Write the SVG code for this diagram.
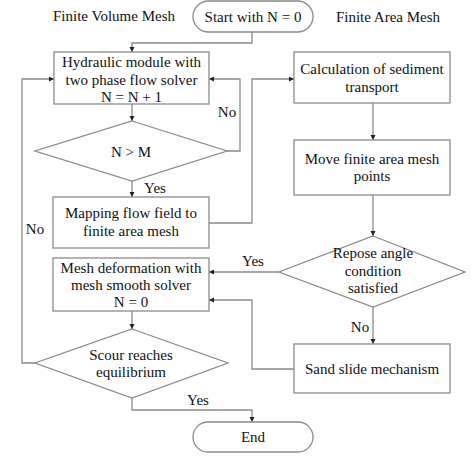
<svg xmlns="http://www.w3.org/2000/svg" width="474" height="464" viewBox="0 0 474 464">
<defs>
<marker id="ah" markerWidth="6" markerHeight="6" refX="5" refY="3" orient="auto" markerUnits="userSpaceOnUse">
<path d="M0,0.5 L5,3 L0,5.5 Z" fill="#222"/>
</marker>
<style>
.s{fill:#fff;stroke:#8a8a8a;stroke-width:1.3}
.c{fill:none;stroke:#8a8a8a;stroke-width:1.3;marker-end:url(#ah)}
.n{fill:none;stroke:#8a8a8a;stroke-width:1.3}
text{font-family:"Liberation Serif","Times New Roman",serif;font-size:15px;fill:#111;text-anchor:middle}
</style>
</defs>
<rect width="474" height="464" fill="#fff"/>
<text x="114" y="21">Finite Volume Mesh</text>
<text x="388" y="22">Finite Area Mesh</text>
<g id="connectors">
<path class="c" d="M252,32 V43 H132 V52"/>
<path class="c" d="M132,104 V121"/>
<path class="c" d="M227,151 H240 V79 H209"/>
<path class="c" d="M132,181 V197"/>
<path class="c" d="M209,223 H252 V79 H294"/>
<path class="c" d="M373,103 V140"/>
<path class="c" d="M373,195 V236"/>
<path class="c" d="M279,272 H209"/>
<path class="c" d="M373,307 V344"/>
<path class="c" d="M294,369 H252 V300 H209"/>
<path class="c" d="M132,311 V329"/>
<path class="c" d="M35,363 H22 V79 H54"/>
<path class="c" d="M132,398 V410 H252 V422"/>
<text x="227" y="117">No</text>
<text x="35" y="234">No</text>
<text x="155" y="193">Yes</text>
<text x="253" y="266">Yes</text>
<text x="360" y="332">No</text>
<text x="198" y="405">Yes</text>
</g>
<g id="start">
<rect class="s" x="193" y="1" width="120" height="31" rx="15.5"/>
<text x="253" y="22">Start with N = 0</text>
</g>
<g id="hydraulic">
<rect class="s" x="54" y="52" width="155" height="52"/>
<text x="131.5" y="67">Hydraulic module with</text>
<text x="131.5" y="85">two phase flow solver</text>
<text x="131.5" y="102">N = N + 1</text>
</g>
<g id="nm">
<path class="s" d="M132,121 L227,151 L132,181 L35,151 Z"/>
<text x="131" y="157">N &gt; M</text>
</g>
<g id="mapping">
<rect class="s" x="53" y="197" width="156" height="51"/>
<text x="131" y="218">Mapping flow field to</text>
<text x="131" y="236">finite area mesh</text>
</g>
<g id="calc">
<rect class="s" x="294" y="52" width="156" height="51"/>
<text x="372" y="74">Calculation of sediment</text>
<text x="372" y="92">transport</text>
</g>
<g id="move">
<rect class="s" x="294" y="140" width="156" height="55"/>
<text x="372" y="164">Move finite area mesh</text>
<text x="372" y="181">points</text>
</g>
<g id="repose">
<path class="s" d="M373,236 L465,272 L373,307 L279,272 Z"/>
<text x="373" y="258">Repose angle</text>
<text x="373" y="276">condition</text>
<text x="373" y="293">satisfied</text>
</g>
<g id="meshdef">
<rect class="s" x="53" y="258" width="156" height="53"/>
<text x="131" y="273">Mesh deformation with</text>
<text x="131" y="290">mesh smooth solver</text>
<text x="131" y="307">N = 0</text>
</g>
<g id="sand">
<rect class="s" x="294" y="344" width="156" height="49"/>
<text x="372" y="374">Sand slide mechanism</text>
</g>
<g id="scour">
<path class="s" d="M132,329 L228,363 L132,398 L35,363 Z"/>
<text x="131" y="360">Scour reaches</text>
<text x="131" y="377">equilibrium</text>
</g>
<g id="end">
<rect class="s" x="193" y="422" width="120" height="30" rx="15"/>
<text x="253" y="442">End</text>
</g>
</svg>
